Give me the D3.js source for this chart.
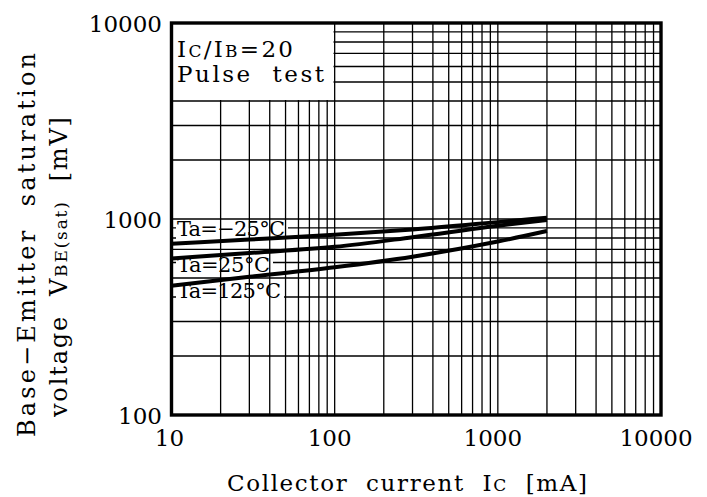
<!DOCTYPE html>
<html>
<head>
<meta charset="utf-8">
<script src="https://cdn.jsdelivr.net/npm/d3@7"></script>
<style>
  body { margin: 0; background: #fff; }
  svg { display: block; }
  text { font-family: "DejaVu Serif", serif; fill: #000; white-space: pre; }
</style>
</head>
<body>
<div id="vis"></div>
<script>
const FRAME_HEIGHT = 497;
const FRAME_WIDTH = 707;
const PLOT = {left: 171.5, right: 661, top: 23, bottom: 415};

// collector current [mA] and V_BE(sat) [mV]
const CURRENT = [10, 30, 100, 300, 1000, 2000];
const VBE_M25 = [747, 786, 831, 884, 964, 1015];
const VBE_25 = [629, 671, 721, 807, 924, 989];
const VBE_125 = [457, 507, 567, 642, 767, 868];
const SERIES = [VBE_M25, VBE_25, VBE_125];
const SERIES_NAMES = ["Ta=\u221225\u00b0C", "Ta=25\u00b0C", "Ta=125\u00b0C"];

const X_TICKS = [10, 100, 1000, 10000];
const Y_TICKS = [100, 1000, 10000];

// where the curve labels sit (left, baseline, width)
const LABEL_POS = [[177, 236, 108], [177, 272, 93], [177, 298, 104]];

const FRAME = d3.select("#vis")
                .append("svg")
                .attr("width", FRAME_WIDTH)
                .attr("height", FRAME_HEIGHT);

const X_SCALE = d3.scaleLog()
                  .domain([10, 10000])
                  .range([PLOT.left, PLOT.right]);
const Y_SCALE = d3.scaleLog()
                  .domain([100, 10000])
                  .range([PLOT.bottom, PLOT.top]);

// minor + major grid values
function logGrid(lo, hi) {
  const out = [];
  for (let dec = lo; dec < hi; dec *= 10) {
    for (let k = 1; k < 10; k++) out.push(dec * k);
  }
  out.push(hi);
  return out;
}
const X_GRID = logGrid(10, 10000);
const Y_GRID = logGrid(100, 10000);

// horizontal grid first
FRAME.append("g")
  .selectAll("line")
  .data(Y_GRID)
  .enter()
  .append("line")
    .attr("x1", PLOT.left)
    .attr("x2", PLOT.right)
    .attr("y1", (d) => Y_SCALE(d))
    .attr("y2", (d) => Y_SCALE(d))
    .attr("stroke", "#000")
    .attr("stroke-width", 1.3);

// label backgrounds hide only the horizontal lines
FRAME.append("g")
  .selectAll("rect")
  .data(LABEL_POS)
  .enter()
  .append("rect")
    .attr("x", (d) => d[0] - 1)
    .attr("y", (d) => d[1] - 16)
    .attr("width", (d) => d[2] + 4)
    .attr("height", 19)
    .attr("fill", "#fff");

// vertical grid
FRAME.append("g")
  .selectAll("line")
  .data(X_GRID)
  .enter()
  .append("line")
    .attr("x1", (d) => X_SCALE(d))
    .attr("x2", (d) => X_SCALE(d))
    .attr("y1", PLOT.top)
    .attr("y2", PLOT.bottom)
    .attr("stroke", "#000")
    .attr("stroke-width", 1.3);

// condition box top-left
FRAME.append("rect")
  .attr("x", PLOT.left)
  .attr("y", PLOT.top)
  .attr("width", 162)
  .attr("height", 77)
  .attr("fill", "#fff");

const cond1 = FRAME.append("text")
  .attr("x", 177)
  .attr("y", 57)
  .attr("font-size", 23)
  .attr("textLength", 116)
  .attr("lengthAdjust", "spacing");
cond1.append("tspan").text("I");
cond1.append("tspan").attr("font-size", 17).text("C");
cond1.append("tspan").text("/I");
cond1.append("tspan").attr("font-size", 17).text("B");
cond1.append("tspan").text("=20");

FRAME.append("text")
  .attr("x", 177)
  .attr("y", 82)
  .attr("font-size", 23)
  .attr("textLength", 147)
  .attr("lengthAdjust", "spacing")
  .text("Pulse  test");

// curves
const LINE = d3.line()
  .x((d) => X_SCALE(d[0]))
  .y((d) => Y_SCALE(d[1]))
  .curve(d3.curveMonotoneX);

FRAME.append("g")
  .selectAll("path")
  .data(SERIES)
  .enter()
  .append("path")
    .attr("d", (s) => LINE(CURRENT.map((c, i) => [c, s[i]])))
    .attr("fill", "none")
    .attr("stroke", "#000")
    .attr("stroke-width", 4);

// curve labels
FRAME.append("g")
  .selectAll("text")
  .data(SERIES_NAMES)
  .enter()
  .append("text")
    .attr("x", (d, i) => LABEL_POS[i][0])
    .attr("y", (d, i) => LABEL_POS[i][1])
    .attr("font-size", 21)
    .attr("textLength", (d, i) => LABEL_POS[i][2])
    .attr("lengthAdjust", "spacing")
    .text((d) => d);

// plot frame
FRAME.append("rect")
  .attr("x", PLOT.left)
  .attr("y", PLOT.top)
  .attr("width", PLOT.right - PLOT.left)
  .attr("height", PLOT.bottom - PLOT.top)
  .attr("fill", "none")
  .attr("stroke", "#000")
  .attr("stroke-width", 3.4);

// tick labels
FRAME.append("g")
  .selectAll("text")
  .data(X_TICKS)
  .enter()
  .append("text")
    .attr("x", (d, i) => X_SCALE(d) - (i === 0 ? 2 : 5))
    .attr("y", 446)
    .attr("text-anchor", "middle")
    .attr("font-size", 23)
    .text((d) => d);

FRAME.append("g")
  .selectAll("text")
  .data(Y_TICKS)
  .enter()
  .append("text")
    .attr("x", 162)
    .attr("y", (d) => Y_SCALE(d) + 9)
    .attr("text-anchor", "end")
    .attr("font-size", 23)
    .text((d) => d);

// axis titles
const xTitle = FRAME.append("text")
  .attr("x", 227)
  .attr("y", 491)
  .attr("font-size", 23)
  .attr("textLength", 360)
  .attr("lengthAdjust", "spacing");
xTitle.append("tspan").text("Collector  current  I");
xTitle.append("tspan").attr("font-size", 17).text("C");
xTitle.append("tspan").text("  [mA]");

FRAME.append("text")
  .attr("transform", "translate(35,437) rotate(-90)")
  .attr("font-size", 24)
  .attr("textLength", 384)
  .attr("lengthAdjust", "spacing")
  .text("Base\u2212Emitter  saturation");

const yTitle2 = FRAME.append("text")
  .attr("transform", "translate(67,417) rotate(-90)")
  .attr("font-size", 24)
  .attr("textLength", 300)
  .attr("lengthAdjust", "spacing");
yTitle2.append("tspan").text("voltage  V");
yTitle2.append("tspan").attr("font-size", 17).text("BE(sat)");
yTitle2.append("tspan").text("  [mV]");
</script>
</body>
</html>
